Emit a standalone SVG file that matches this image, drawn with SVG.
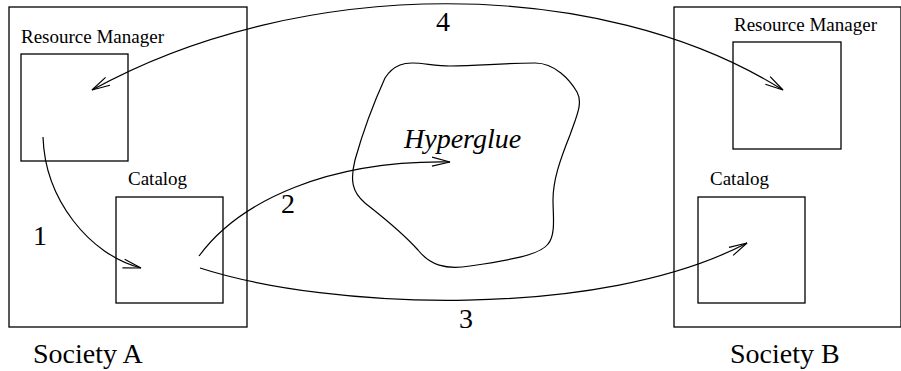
<svg xmlns="http://www.w3.org/2000/svg" width="901" height="371" viewBox="0 0 901 371">
<defs>
<style>
.box{fill:none;stroke:#000;stroke-width:1.3}
.con{fill:none;stroke:#000;stroke-width:1.2}
.t{font-family:"Liberation Serif","Times New Roman",serif;fill:#000}
.s{font-size:19px}
.l{font-size:28px}
.i{font-size:28px;font-style:italic}
</style>
<marker id="ah" markerUnits="userSpaceOnUse" markerWidth="24" markerHeight="14" viewBox="-20 -7 24 14" refX="0" refY="0" orient="auto-start-reverse">
<path d="M-18,-4.5 L0,0 L-18,4.5" fill="none" stroke="#000" stroke-width="1.2"/>
</marker>
</defs>
<rect width="901" height="371" fill="#fff"/>
<g id="societyA">
<rect class="box" x="9" y="7" width="238" height="320"/>
<text class="t l" x="33" y="363">Society A</text>
</g>
<g id="rmA">
<rect class="box" x="21" y="54" width="107" height="107"/>
<text class="t s" x="21" y="43">Resource Manager</text>
</g>
<g id="catA">
<rect class="box" x="116" y="197" width="107" height="106"/>
<text class="t s" x="128" y="185">Catalog</text>
</g>
<g id="societyB">
<rect class="box" x="674" y="7" width="227" height="320"/>
<text class="t l" x="730" y="363">Society B</text>
</g>
<g id="rmB">
<rect class="box" x="733" y="42" width="108" height="107"/>
<text class="t s" x="734" y="31">Resource Manager</text>
</g>
<g id="catB">
<rect class="box" x="698" y="197" width="107" height="106"/>
<text class="t s" x="710" y="185">Catalog</text>
</g>
<g id="hyperglue">
<path class="con" d="M400,65 C412,60 430,66 450,66 C480,66 500,63 535,63 C555,63 570,80 577,92 C583,103 577,115 570,135 C560,160 553,180 553,200 C553,215 556,235 548,244 C540,255 510,260 470,266 C445,270 430,265 418,250 C400,230 380,215 365,203 C352,192 350,180 355,160 C362,135 375,100 385,78 C390,70 395,67 400,65 Z"/>
<text class="t i" x="404" y="148">Hyperglue</text>
</g>
<g id="connectors">
<path class="con" d="M43,137 C45,200 90,255 141,268" marker-end="url(#ah)"/>
<path class="con" d="M199,256 C240,200 330,160 450,162" marker-end="url(#ah)"/>
<path class="con" d="M200,268 C330,310 600,320 747,243" marker-end="url(#ah)"/>
<path class="con" d="M92,90 C300,-25 600,-25 783,90" marker-start="url(#ah)" marker-end="url(#ah)"/>
<text class="t l" x="33" y="245">1</text>
<text class="t l" x="281" y="213">2</text>
<text class="t l" x="459" y="328">3</text>
<text class="t l" x="436" y="31">4</text>
</g>
</svg>
